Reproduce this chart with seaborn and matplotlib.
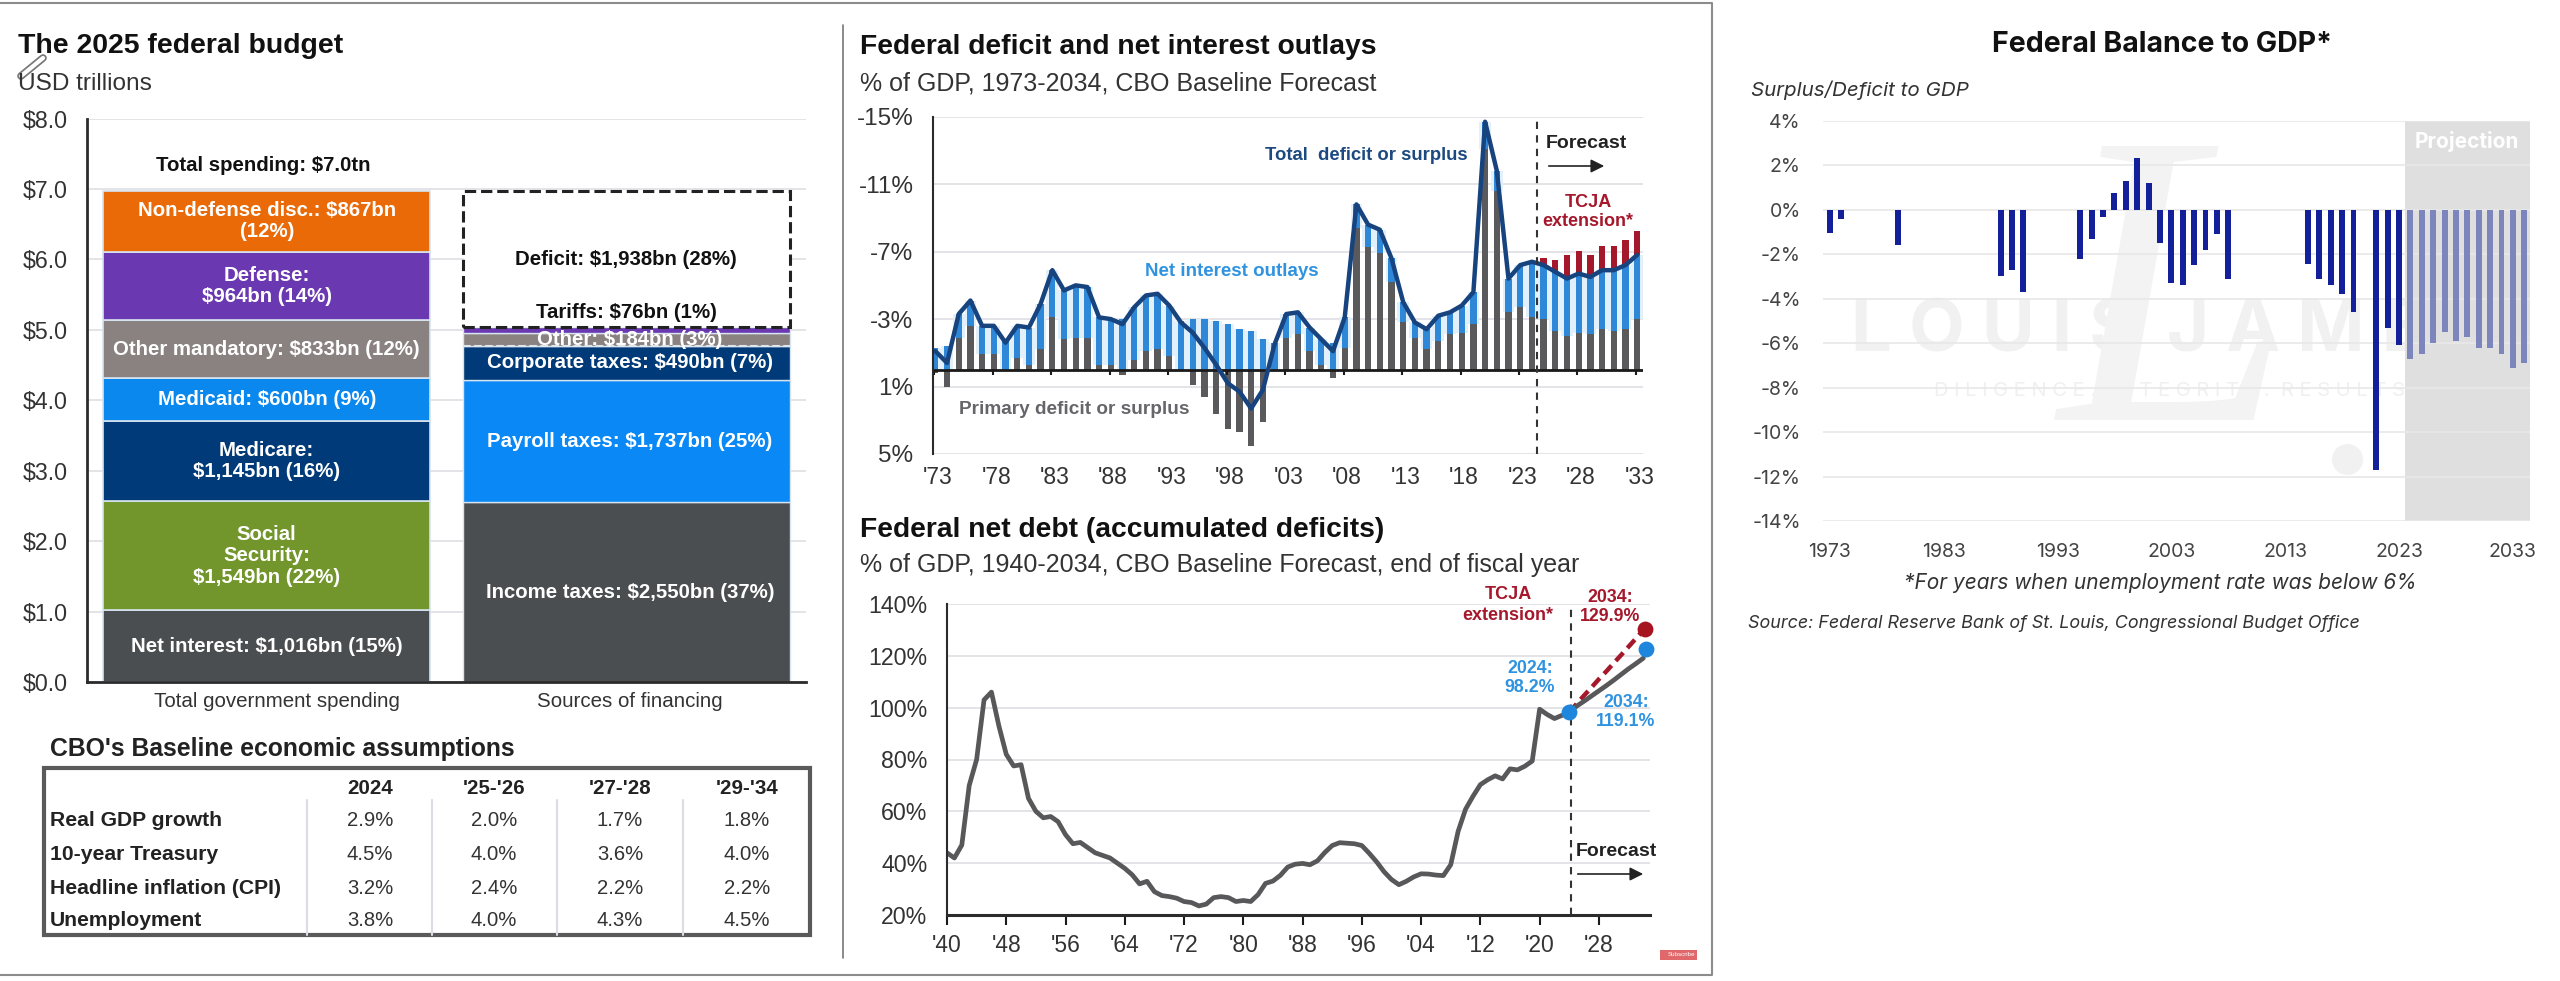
import numpy as np
import pandas as pd
import matplotlib.pyplot as plt
from matplotlib.patches import Rectangle
import seaborn as sns

# Federal budget panels (left: JPM guide style, right: balance to GDP)

W, H = 2560, 981

# budget stack
spend_values = [1.016, 1.549, 1.145, 0.600, 0.833, 0.964, 0.867]
spend_labels = ["Net interest: $1,016bn (15%)", "Social\nSecurity:\n$1,549bn (22%)", "Medicare:\n$1,145bn (16%)",
                "Medicaid: $600bn (9%)", "Other mandatory: $833bn (12%)", "Defense:\n$964bn (14%)",
                "Non-defense disc.: $867bn\n(12%)"]
spend_colors = ["#4b4e50", "#72952c", "#003a78", "#0a88ee", "#8a8281", "#6a38b0", "#ea6a08"]
fin_values = [2.550, 1.737, 0.490, 0.184, 0.076]
fin_labels = ["Income taxes: $2,550bn (37%)", "Payroll taxes: $1,737bn (25%)", "Corporate taxes: $490bn (7%)",
              "Other: $184bn (3%)", ""]
fin_colors = ["#4b4e50", "#0a88f5", "#003a78", "#8a8281", "#6a38b0"]
deficit_value = 1.938
budget_cats = ["Total government spending", "Sources of financing"]

# table
table_cols = ["2024", "'25-'26", "'27-'28", "'29-'34"]
table_rows = ["Real GDP growth", "10-year Treasury", "Headline inflation (CPI)", "Unemployment"]
table_vals = [["2.9%", "2.0%", "1.7%", "1.8%"],
              ["4.5%", "4.0%", "3.6%", "4.0%"],
              ["3.2%", "2.4%", "2.2%", "2.2%"],
              ["3.8%", "4.0%", "4.3%", "4.5%"]]

# deficit panel, 1973-2033, negative = deficit
def_years = list(range(1973, 2034))
total_def = [-1.1, -0.4, -3.3, -4.1, -2.6, -2.6, -1.6, -2.6, -2.5, -3.9, -5.9, -4.7, -5.0, -4.9, -3.1, -3.0,
             -2.7, -3.7, -4.4, -4.5, -3.8, -2.8, -2.2, -1.3, -0.3, 0.8, 1.3, 2.3, 1.2, -1.5, -3.3, -3.4,
             -2.5, -1.8, -1.1, -3.1, -9.8, -8.6, -8.3, -6.6, -4.0, -2.8, -2.4, -3.2, -3.4, -3.8, -4.6,
             -14.7, -11.8, -5.4, -6.2, -6.4, -6.2, -5.8, -5.4, -5.7, -5.5, -5.9, -5.9, -6.2, -6.8]
primary = [0.2, 1.0, -1.9, -2.6, -0.9, -0.9, 0.1, -0.7, -0.3, -1.2, -3.1, -1.8, -1.9, -1.9, -0.3, -0.3,
           0.3, -0.6, -1.1, -1.2, -0.8, 0.1, 0.9, 1.6, 2.6, 3.5, 3.7, 4.5, 3.1, 0.1, -1.9, -2.1,
           -1.1, -0.3, 0.5, -1.3, -8.4, -7.3, -6.9, -5.2, -2.8, -1.9, -1.2, -1.7, -2.1, -2.2, -2.7,
           -13.1, -10.6, -3.4, -3.7, -3.1, -3.0, -2.3, -2.0, -2.2, -2.1, -2.4, -2.3, -2.4, -3.0]
interest = [1.3, 1.4, 1.4, 1.5, 1.7, 1.7, 1.7, 1.9, 2.2, 2.7, 2.8, 2.9, 3.1, 3.0, 2.8, 2.7,
            3.0, 3.1, 3.3, 3.3, 3.0, 2.9, 3.0, 3.0, 2.9, 2.7, 2.4, 2.3, 1.8, 1.6, 1.4, 1.3,
            1.4, 1.5, 1.6, 1.8, 1.4, 1.3, 1.4, 1.4, 1.2, 0.9, 1.2, 1.5, 1.3, 1.6, 1.9,
            1.6, 1.2, 2.0, 2.5, 3.3, 3.2, 3.5, 3.4, 3.5, 3.4, 3.5, 3.6, 3.8, 3.8]
tcja_years = list(range(2025, 2034))
tcja = [0.4, 0.7, 1.4, 1.35, 1.3, 1.45, 1.45, 1.5, 1.45]
def_ticks = [1973, 1978, 1983, 1988, 1993, 1998, 2003, 2008, 2013, 2018, 2023, 2028, 2033]
def_ticklabels = ["'73", "'78", "'83", "'88", "'93", "'98", "'03", "'08", "'13", "'18", "'23", "'28", "'33"]

# net debt panel
debt_years = list(range(1940, 2035))
debt = [44, 42, 47, 70, 80, 103, 106, 93, 82, 77.5, 78, 65, 60, 57.5, 58, 56, 51, 47.5, 48, 46,
        44, 43, 42, 40, 38, 35.5, 32, 33, 29, 27.5, 27.1, 26.5, 25.2, 24.8, 23.5, 24.2, 26.7, 27.1, 26.7, 25.2, 25.6,
        25.2, 27.9, 32.2, 33.1, 35.3, 38.5, 39.6, 39.9, 39.4, 40.9, 44.1, 46.8, 47.9, 47.7, 47.5, 46.8, 43.8, 40.5, 36.7, 33.7, 31.7,
        33, 34.7, 35.9, 35.8, 35.4, 35.2, 39.4, 52.3, 60.8, 65.8, 70.3, 72.2, 73.7, 72.5, 76.4, 76.0, 77.4, 79.4, 99.4, 97.4,
        95.8, 97, 98.2, 100.6, 102.5, 104.5, 106.5, 108.5, 110.6, 112.8, 115, 117, 119.1]
tcja_debt_years = list(range(2024, 2035))
tcja_debt = [98.2, 101.5, 104.7, 107.8, 111, 114, 117.2, 120.3, 123.5, 126.7, 129.9]
debt_ticks = [1940, 1948, 1956, 1964, 1972, 1980, 1988, 1996, 2004, 2012, 2020, 2028]
debt_ticklabels = ["'40", "'48", "'56", "'64", "'72", "'80", "'88", "'96", "'04", "'12", "'20", "'28"]
debt_yticks = [20, 40, 60, 80, 100, 120, 140]

# balance to GDP panel
hist_years = [1973, 1974, 1979, 1988, 1989, 1990, 1995, 1996, 1997, 1998, 1999, 2000, 2001, 2002, 2003, 2004,
              2005, 2006, 2007, 2008, 2015, 2016, 2017, 2018, 2019, 2021, 2022, 2023]
hist_bal = [-1.06, -0.42, -1.6, -2.97, -2.7, -3.7, -2.2, -1.3, -0.3, 0.76, 1.3, 2.33, 1.2, -1.5, -3.3, -3.4,
            -2.5, -1.8, -1.1, -3.1, -2.44, -3.1, -3.4, -3.8, -4.6, -11.7, -5.3, -6.1]
proj_years = list(range(2024, 2035))
proj_bal = [-6.7, -6.5, -6.0, -5.5, -5.9, -5.7, -6.2, -6.2, -6.5, -7.1, -6.9]
bal_yticks = [4, 2, 0, -2, -4, -6, -8, -10, -12, -14]
bal_xticks = [1973, 1983, 1993, 2003, 2013, 2023, 2033]

sns.set_theme(style="white")
plt.rcParams['font.family'] = ['Liberation Sans', 'DejaVu Sans']
plt.rcParams['axes.linewidth'] = 1.5

fig = plt.figure(figsize=(W / 100, H / 100), dpi=100)
back = fig.add_axes([0, 0, 1, 1], zorder=-1)
back.set_xlim(0, W)
back.set_ylim(H, 0)
back.axis('off')
top = fig.add_axes([0, 0, 1, 1], zorder=10)
top.set_xlim(0, W)
top.set_ylim(H, 0)
top.axis('off')


def panel(l, t, r, b):
    ax = fig.add_axes([l / W, 1 - b / H, (r - l) / W, (b - t) / H])
    ax.set_facecolor('none')
    ax.set_axisbelow(True)
    return ax


GRID = "#e0e0e6"
DARK = "#2b2b2b"

# frame around the screenshot
top.plot([0, 1712, 1712, 0], [3, 3, 975, 975], color="#8c8c8c", lw=1.5)
top.plot([843, 843], [25, 958], color="#777777", lw=1.2)
top.add_patch(Rectangle((1660, 950), 37, 10, color="#e0676a", lw=0))
top.text(1682, 955, "Subscribe", fontsize=4.5, color="white", ha="center", va="center")

# ---------- budget stack
ax = panel(87, 118.5, 806, 682)
bottom = 0
for val, lab, col in zip(spend_values, spend_labels, spend_colors):
    sns.barplot(x=[budget_cats[0]], y=[val], order=budget_cats, bottom=bottom, color=col, saturation=1,
                width=0.91, edgecolor="#d8e4f0", linewidth=1.2, ax=ax)
    ax.text(0, bottom + val / 2, lab, color="white", fontweight="bold", fontsize=14.7, ha="center", va="center",
            linespacing=1.15)
    bottom += val
bottom = 0
for val, lab, col in zip(fin_values, fin_labels, fin_colors):
    sns.barplot(x=[budget_cats[1]], y=[val], order=budget_cats, bottom=bottom, color=col, saturation=1,
                width=0.91, edgecolor="#d8e4f0", linewidth=1.0, ax=ax)
    if lab:
        ax.text(1.01, bottom + val / 2, lab, color="white", fontweight="bold", fontsize=14.7, ha="center", va="center")
    bottom += val
sns.barplot(x=[budget_cats[1]], y=[deficit_value], order=budget_cats, bottom=bottom, color="white", saturation=1,
            width=0.91, edgecolor="#222222", linestyle="--", linewidth=2.2, ax=ax)
ax.plot([0.545, 1.455], [sum(fin_values[:3])] * 2, color="#dfe6ee", lw=1.5, ls="--")
ax.text(1.0, 6.0, "Deficit: $1,938bn (28%)", color="#111111", fontweight="bold", fontsize=14.7, ha="center", va="center")
ax.text(1.0, 5.25, "Tariffs: $76bn (1%)", color="#111111", fontweight="bold", fontsize=14.7, ha="center", va="center")
ax.text(-0.01, 7.33, "Total spending: $7.0tn", color="#111111", fontweight="bold", fontsize=14.7, ha="center", va="center")
ax.set_xlim(-0.5, 1.5)
ax.set_ylim(0, 8)
ax.set_yticks(range(0, 9))
ax.set_yticklabels([f"${v}.0" for v in range(0, 9)], fontsize=16.7, color="#333333")
ax.set_xticks([0.028, 1.011])
ax.set_xticklabels(budget_cats, fontsize=14.8, color="#333333")
ax.set_xlabel("")
ax.set_ylabel("")
ax.tick_params(axis='y', length=0, pad=14)
ax.tick_params(axis='x', length=0, pad=7)
ax.yaxis.grid(True, color=GRID, lw=1.3)
sns.despine(ax=ax, top=True, right=True)
ax.spines['left'].set_color(DARK)
ax.spines['bottom'].set_color(DARK)
ax.spines['left'].set_linewidth(2)
ax.spines['bottom'].set_linewidth(2)

top.text(18, 46, "The 2025 federal budget", fontsize=20.4, fontweight="bold", color="#111111", va="center")
top.text(18, 84, "USD trillions", fontsize=17.6, color="#333333", va="center")
top.plot([21, 43], [76, 58], color="#777777", lw=5.5, solid_capstyle="round")
top.plot([21, 43], [76, 58], color="white", lw=3, solid_capstyle="round")

# ---------- table
top.text(50, 749, "CBO's Baseline economic assumptions", fontsize=17.8, fontweight="bold", color="#222222", va="center")
top.add_patch(Rectangle((44, 768), 766, 167, fill=False, edgecolor="#5a5a5a", lw=3))
col_x = [370, 494, 620, 747]
row_y = [820, 855, 888, 921]
for x, c in zip(col_x, table_cols):
    top.text(x, 788, c, fontsize=14.8, fontweight="bold", color="#222222", ha="center", va="center")
for x in [307, 432, 557, 683]:
    top.plot([x, x], [800, 935], color="#dcdce2", lw=1.5)
for y, name, vals in zip(row_y, table_rows, table_vals):
    top.text(50, y, name, fontsize=15.2, fontweight="bold", color="#222222", va="center")
    for x, v in zip(col_x, vals):
        top.text(x, y, v, fontsize=14.6, color="#333333", ha="center", va="center")

# ---------- deficit panel
ax = panel(933, 116.7, 1643, 454)
neg_base = [min(p, 0) for p in primary]
sns.barplot(x=def_years, y=[-v for v in interest], bottom=neg_base, native_scale=True, color="#e2f0fb", saturation=1,
            width=1.0, linewidth=0, ax=ax)
sns.barplot(x=def_years, y=[-v for v in interest], bottom=neg_base, native_scale=True, color="#2f87d8", saturation=1,
            width=0.54, linewidth=0, ax=ax)
sns.barplot(x=def_years, y=primary, native_scale=True, color="#5a5a5c", saturation=1, width=0.54, linewidth=0, ax=ax)
sns.barplot(x=tcja_years, y=[-v for v in tcja], bottom=total_def[-9:], native_scale=True, color="#a5182c", saturation=1,
            width=0.54, linewidth=0, ax=ax)
ax.axhline(0, color="#1a1a1a", lw=2)
ax.vlines([y - 0.1 for y in def_ticks], 0, 0.3, color="#1a1a1a", lw=1.5)
sns.lineplot(x=def_years, y=total_def, color="#17437f", linewidth=3.2, errorbar=None, ax=ax)
ax.axvline(2024.4, color="#333333", lw=1.5, ls=(0, (3.5, 3)))
ax.set_xlim(1972.8, 2033.5)
ax.set_ylim(5, -15)
ax.set_yticks([-15, -11, -7, -3, 1, 5])
ax.set_yticklabels(["-15%", "-11%", "-7%", "-3%", "1%", "5%"], fontsize=17.5, color="#333333")
ax.set_xticks([y + 0.2 for y in def_ticks])
ax.set_xticklabels(def_ticklabels, fontsize=16.5, color="#333333")
ax.set_xlabel("")
ax.set_ylabel("")
ax.tick_params(axis='y', length=0, pad=14)
ax.tick_params(axis='x', length=0, pad=9)
ax.yaxis.grid(True, color=GRID, lw=1.3)
sns.despine(ax=ax, top=True, right=True, bottom=True)
ax.spines['left'].set_color(DARK)

top.text(860, 47, "Federal deficit and net interest outlays", fontsize=20.3, fontweight="bold", color="#111111", va="center")
top.text(860, 83, "% of GDP, 1973-2034, CBO Baseline Forecast", fontsize=18, color="#333333", va="center")
top.text(1366, 155, "Total  deficit or surplus", fontsize=13.3, fontweight="bold", color="#1c4a80", ha="center", va="center")
top.text(1232, 272, "Net interest outlays", fontsize=13.5, fontweight="bold", color="#2f93e0", ha="center", va="center")
top.text(1074, 409, "Primary deficit or surplus", fontsize=13.7, fontweight="bold", color="#66666a", ha="center", va="center")
top.text(1586, 144, "Forecast", fontsize=14, fontweight="bold", color="#222222", ha="center", va="center")
top.annotate("", xy=(1607, 166), xytext=(1546, 166), arrowprops=dict(arrowstyle="-|>", color="#222222", lw=1.2, mutation_scale=20))
top.text(1588, 212, "TCJA\nextension*", fontsize=13, fontweight="bold", color="#a5182c", ha="center", va="center", linespacing=1.2)

# ---------- net debt panel
ax = panel(947, 604, 1650, 915)
ax.axvline(2024.2, color="#333333", lw=1.5, ls=(0, (3.5, 3)))
sns.lineplot(x=tcja_debt_years, y=tcja_debt, color="#a5182c", linewidth=3.2, linestyle=(0, (2.5, 1.4)), errorbar=None, ax=ax)
sns.lineplot(x=debt_years, y=debt, color="#58585a", linewidth=3.4, errorbar=None, ax=ax)
sns.scatterplot(x=[2024.0], y=[98.2], color="#1f86de", s=130, linewidth=0, zorder=5, ax=ax)
sns.scatterplot(x=[2034.2], y=[130.5], color="#a5141f", s=130, linewidth=0, zorder=5, clip_on=False, ax=ax)
sns.scatterplot(x=[2034.3], y=[122.8], color="#1f86de", s=130, linewidth=0, zorder=5, clip_on=False, ax=ax)
ax.set_xlim(1940, 2034.9)
ax.set_ylim(20, 140)
ax.set_yticks(debt_yticks)
ax.set_yticklabels([f"{v}%" for v in debt_yticks], fontsize=16.7, color="#333333")
ax.set_xticks(debt_ticks)
ax.set_xticklabels(debt_ticklabels, fontsize=16.5, color="#333333")
ax.set_xlabel("")
ax.set_ylabel("")
ax.tick_params(axis='y', length=0, pad=14)
ax.tick_params(axis='x', length=7, width=1.5, color="#1a1a1a", pad=7, bottom=True)
ax.yaxis.grid(True, color=GRID, lw=1.3)
sns.despine(ax=ax, top=True, right=True)
ax.spines['left'].set_color(DARK)
ax.spines['bottom'].set_color(DARK)
ax.spines['bottom'].set_linewidth(2.2)

top.text(860, 530, "Federal net debt (accumulated deficits)", fontsize=20.3, fontweight="bold", color="#111111", va="center")
top.text(860, 565, "% of GDP, 1940-2034, CBO Baseline Forecast, end of fiscal year", fontsize=18, color="#333333", va="center")
top.text(1508, 605, "TCJA\nextension*", fontsize=13, fontweight="bold", color="#a5182c", ha="center", va="center", linespacing=1.25)
top.text(1610, 607, "2034:\n129.9%", fontsize=12.8, fontweight="bold", color="#a5182c", ha="center", va="center", linespacing=1.2)
top.text(1530, 678, "2024:\n98.2%", fontsize=12.8, fontweight="bold", color="#2f93e0", ha="center", va="center", linespacing=1.2)
top.text(1626, 712, "2034:\n119.1%", fontsize=12.8, fontweight="bold", color="#2f93e0", ha="center", va="center", linespacing=1.2)
top.text(1616, 851, "Forecast", fontsize=14, fontweight="bold", color="#222222", ha="center", va="center")
top.annotate("", xy=(1646, 874), xytext=(1575, 874), arrowprops=dict(arrowstyle="-|>", color="#222222", lw=1.2, mutation_scale=20))

# ---------- balance to GDP panel
back.text(1994, 332, "L O U I S", fontsize=52, color="#f1f1f1", ha="center", va="center", family="Inter", fontweight="bold")
back.text(2328, 332, "J A M E S", fontsize=52, color="#f1f1f1", ha="center", va="center", family="Inter", fontweight="bold")
back.text(2175, 391, "D I L I G E N C E .  I N T E G R I T Y .  R E S U L T S .", fontsize=14.5, color="#f0f0f0", ha="center", va="center", family="Inter")
back.text(2175, 320, "L", fontsize=300, color="#f3f3f3", ha="center", va="center", family="Liberation Serif", style="italic")
back.scatter([2347], [459], s=500, color="#f1f1f1", linewidths=0)

ax = panel(1823, 121, 2530, 521)
ax.axvspan(2023.5, 2034.5, color="#e0dfe0", lw=0, zorder=0)
sns.barplot(x=hist_years, y=hist_bal, native_scale=True, color="#14209a", saturation=1, width=0.52, linewidth=0, ax=ax)
sns.barplot(x=proj_years, y=proj_bal, native_scale=True, color="#7d86bc", saturation=1, width=0.52, linewidth=0, ax=ax)
ax.set_xlim(1972.4, 2034.5)
ax.set_ylim(-14, 4)
ax.set_yticks(bal_yticks)
ax.set_yticklabels([f"{v}%" for v in bal_yticks], fontsize=14, color="#444444", family="Inter")
ax.set_xticks(bal_xticks)
ax.set_xticklabels(bal_xticks, fontsize=14, color="#444444", family="Inter")
ax.set_xlabel("")
ax.set_ylabel("")
ax.tick_params(axis='y', length=0, pad=16)
ax.tick_params(axis='x', length=0, pad=16)
ax.yaxis.grid(True, color="#e8e8e8", lw=1.2)
sns.despine(ax=ax, top=True, right=True, left=True, bottom=True)

top.text(2162, 44, "Federal Balance to GDP*", fontsize=20.5, fontweight="bold", color="#111111", ha="center", va="center", family="Inter")
top.text(1751, 90, "Surplus/Deficit to GDP", fontsize=14.8, style="italic", color="#333333", va="center", family="Inter")
top.text(2467, 142, "Projection", fontsize=15, fontweight="bold", color="white", ha="center", va="center", family="Inter")
top.text(2160, 583, "*For years when unemployment rate was below 6%", fontsize=15, style="italic", color="#333333", ha="center", va="center", family="Inter")
top.text(1748, 624, "Source: Federal Reserve Bank of St. Louis, Congressional Budget Office", fontsize=12.9, style="italic", color="#333333", va="center", family="Inter")

fig.savefig("out.png", dpi=100)
